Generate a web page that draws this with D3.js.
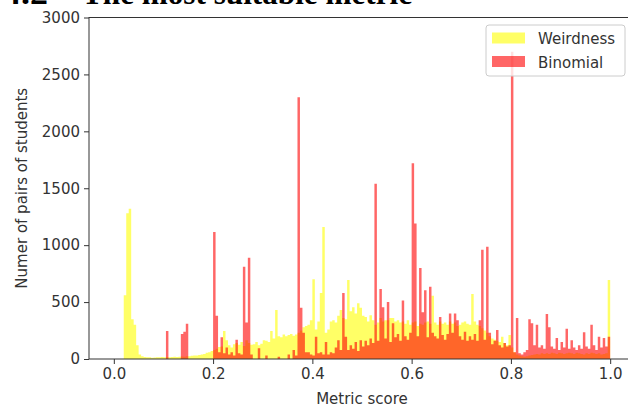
<!DOCTYPE html>
<html>
<head>
<meta charset="utf-8">
<script src="https://cdn.jsdelivr.net/npm/d3@7"></script>
<style>
  html, body { margin: 0; padding: 0; background: #fff; }
  svg { display: block; }
</style>
</head>
<body>
<svg id="chart" width="628" height="407"></svg>
<script>
// Histogram bins: start at 0.02, width 0.005, up to 1.0
const binStart = 0.02;
const binWidth = 0.005;

// Pair counts per bin, metric "Weirdness"
const weirdness = [
  560, 1280, 1320, 350, 300, 120, 40, 25, 18, 15,
  15, 12, 14, 16, 15, 18, 15, 17, 16, 18,
  20, 18, 20, 22, 20, 25, 24, 28, 30, 30,
  35, 40, 45, 55, 60, 70, 80, 90, 105, 110,
  245, 165, 120, 100, 130, 140, 125, 150, 115, 165,
  140, 125, 130, 150, 120, 135, 165, 160, 150, 245,
  180, 430, 200, 190, 215, 200, 210, 220, 205, 215,
  230, 250, 280, 290, 300, 340, 700, 260, 330, 580,
  1160, 230, 260, 330, 340, 320, 380, 430, 360, 350,
  695, 420, 455, 400, 490, 450, 380, 370, 330, 385,
  340, 300, 320, 360, 330, 340, 340, 360, 360, 330,
  340, 320, 330, 310, 340, 300, 320, 330, 290, 310,
  300, 320, 330, 310, 555, 320, 300, 330, 310, 320,
  300, 330, 310, 320, 290, 300, 320, 330, 310, 300,
  570, 330, 300, 290, 270, 250, 230, 200, 180, 170,
  160, 150, 195, 140, 120, 210, 100, 60, 40, 30,
  25, 20, 25, 30, 35, 40, 45, 40, 50, 45,
  50, 45, 55, 50, 45, 55, 50, 45, 50, 55,
  50, 45, 55, 50, 45, 40, 50, 45, 55, 50,
  45, 50, 40, 45, 50, 695
];

// Pair counts per bin, metric "Binomial"
const binomial = [
  0, 0, 0, 0, 0, 0, 0, 0, 0, 0,
  0, 0, 0, 0, 0, 0, 0, 245, 0, 0,
  0, 0, 0, 220, 240, 310, 0, 0, 0, 0,
  0, 0, 0, 0, 0, 0, 1115, 380, 60, 190,
  50, 100, 40, 60, 30, 170, 50, 40, 810, 320,
  890, 40, 0, 0, 95, 0, 0, 30, 0, 0,
  0, 0, 20, 0, 0, 0, 40, 0, 80, 30,
  2300, 450, 230, 60, 60, 40, 30, 195, 50, 60,
  40, 150, 40, 60, 50, 100, 165, 80, 580, 195,
  80, 120, 90, 150, 70, 165, 110, 160, 120, 180,
  140, 1540, 160, 615, 455, 180, 500, 150, 315, 190,
  220, 160, 515, 200, 170, 230, 1720, 1190, 200, 800,
  410, 605, 190, 635, 230, 200, 180, 370, 210, 170,
  220, 400, 230, 400, 340, 200, 170, 240, 160, 200,
  170, 220, 160, 340, 960, 170, 985, 230, 130, 160,
  255, 120, 100, 140, 110, 120, 2700, 60, 360, 50,
  40, 60, 80, 350, 315, 120, 300, 100, 120, 90,
  395, 280, 110, 90, 185, 80, 150, 100, 265, 90,
  165, 100, 80, 120, 90, 235, 110, 90, 300, 120,
  80, 195, 100, 185, 110, 195
];

const seriesNames = ["Weirdness", "Binomial"];
const xTicks = [0.0, 0.2, 0.4, 0.6, 0.8, 1.0];
const yTicks = [0, 500, 1000, 1500, 2000, 2500, 3000];

const svg = d3.select("#chart");
const frame = { left: 89, right: 635, top: 17.5, bottom: 359 };

const x = d3.scaleLinear().domain([-0.05, 1.05]).range([frame.left, frame.right]);
const y = d3.scaleLinear().domain([0, 3000]).range([frame.bottom, frame.top]);

// Section heading above the figure
const heading = svg.append("g")
  .attr("font-family", "'Liberation Serif', 'Times New Roman', serif")
  .attr("font-weight", "bold")
  .attr("font-size", 31)
  .attr("fill", "#000");
heading.append("text").attr("x", 3).attr("y", 4)
  .attr("textLength", 45).attr("lengthAdjust", "spacingAndGlyphs").text("4.2");
heading.append("text").attr("x", 82).attr("y", 4)
  .attr("textLength", 330).attr("lengthAdjust", "spacingAndGlyphs").text("The most suitable metric");

// Turn counts into step points (one per bin edge)
function stepPoints(counts) {
  const pts = counts.map((c, i) => ({ e: binStart + i * binWidth, c }));
  pts.push({ e: binStart + counts.length * binWidth, c: 0 });
  return pts;
}

const area = d3.area()
  .x(d => x(d.e))
  .y0(y(0))
  .y1(d => y(d.c))
  .curve(d3.curveStepAfter);

const plot = svg.append("g");
plot.append("path")
  .datum(stepPoints(weirdness))
  .attr("d", area)
  .attr("fill", "#ffff00")
  .attr("fill-opacity", 0.6);
plot.append("path")
  .datum(stepPoints(binomial))
  .attr("d", area)
  .attr("fill", "#ff0000")
  .attr("fill-opacity", 0.6);

// Axes
const font = "'DejaVu Sans', sans-serif";
const xAxis = svg.append("g")
  .attr("transform", `translate(0,${frame.bottom})`)
  .call(d3.axisBottom(x).tickValues(xTicks).tickFormat(d3.format(".1f")).tickSize(5).tickPadding(4));
const yAxis = svg.append("g")
  .attr("transform", `translate(${frame.left},0)`)
  .call(d3.axisLeft(y).tickValues(yTicks).tickFormat(d3.format("d")).tickSize(5).tickPadding(4));

[xAxis, yAxis].forEach(g => {
  g.select(".domain").remove();
  g.selectAll(".tick line").attr("stroke", "#333").attr("stroke-width", 1);
  g.selectAll(".tick text")
    .attr("font-family", font)
    .attr("font-size", 15)
    .attr("fill", "#333");
});

// Spines
svg.append("rect")
  .attr("x", frame.left).attr("y", frame.top)
  .attr("width", frame.right - frame.left).attr("height", frame.bottom - frame.top)
  .attr("fill", "none").attr("stroke", "#333").attr("stroke-width", 1);

// Axis titles
svg.append("text")
  .attr("x", (frame.left + frame.right) / 2).attr("y", 404)
  .attr("text-anchor", "middle")
  .attr("font-family", font).attr("font-size", 15).attr("fill", "#333")
  .text("Metric score");
svg.append("text")
  .attr("transform", `translate(27,${(frame.top + frame.bottom) / 2}) rotate(-90)`)
  .attr("text-anchor", "middle")
  .attr("font-family", font).attr("font-size", 15).attr("fill", "#333")
  .text("Numer of pairs of students");

// Legend
const legend = svg.append("g");
legend.append("rect")
  .attr("x", 486).attr("y", 25).attr("width", 139).attr("height", 51)
  .attr("rx", 3)
  .attr("fill", "#fff").attr("fill-opacity", 0.8)
  .attr("stroke", "#ccc").attr("stroke-width", 1);
const legendColors = ["#ffff00", "#ff0000"];
seriesNames.forEach((name, i) => {
  const row = legend.append("g").attr("transform", `translate(0,${i * 23.5})`);
  row.append("rect")
    .attr("x", 492).attr("y", 32.5).attr("width", 33).attr("height", 11)
    .attr("fill", legendColors[i]).attr("fill-opacity", 0.6);
  row.append("text")
    .attr("x", 538).attr("y", 44)
    .attr("font-family", font).attr("font-size", 15).attr("fill", "#333")
    .text(name);
});
</script>
</body>
</html>
